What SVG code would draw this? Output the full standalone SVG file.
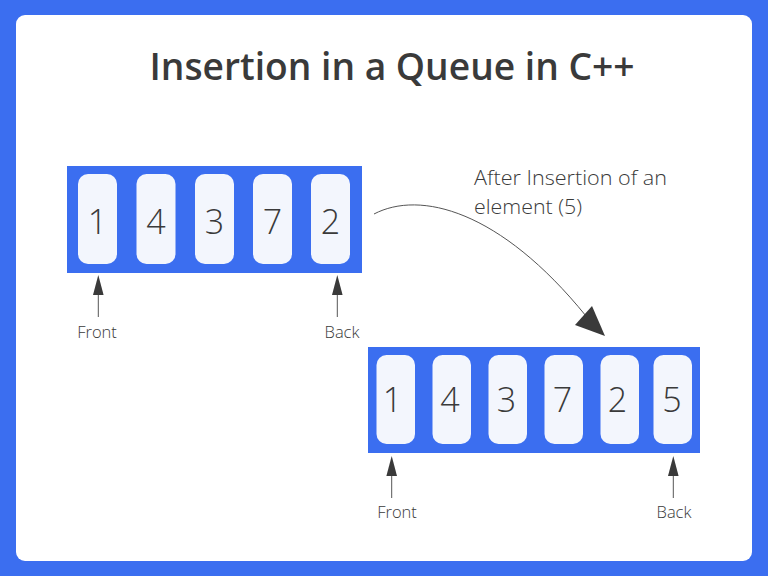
<svg xmlns="http://www.w3.org/2000/svg" width="768" height="576" viewBox="0 0 768 576">
<style>
.bg{fill:#3b6ef0}
.card{fill:#ffffff}
.q{fill:#3b6ef0}
.cell{fill:#f3f6fd}
.num{font-family:"Open Sans","Noto Sans",sans-serif;font-size:34px;font-weight:300;fill:#3a3a3a;text-anchor:middle}
.lbl{font-family:"Open Sans","Noto Sans",sans-serif;font-size:16.5px;font-weight:300;fill:#3a3a3a;text-anchor:middle}
.note{font-family:"Open Sans","Noto Sans",sans-serif;font-size:19.5px;font-weight:300;fill:#3a3a3a}
.title{font-family:"Open Sans","Noto Sans",sans-serif;font-size:38px;font-weight:600;fill:#3a3a3a;text-anchor:middle}
.ptr{stroke:#555;stroke-width:1;fill:none}
.head{fill:#3a3a3a}
</style>
<rect class="bg" x="0" y="0" width="768" height="576"/>
<rect class="card" x="16" y="15" width="736" height="546" rx="9"/>
<text class="title" x="392" y="80" textLength="485" lengthAdjust="spacingAndGlyphs">Insertion in a Queue in C++</text>

<g id="queue1">
<rect class="q" x="67" y="166" width="295" height="107"/>
<rect class="cell" x="78" y="174" width="39" height="90" rx="10"/>
<rect class="cell" x="136.5" y="174" width="39" height="90" rx="10"/>
<rect class="cell" x="195" y="174" width="39" height="90" rx="10"/>
<rect class="cell" x="253" y="174" width="39" height="90" rx="10"/>
<rect class="cell" x="311" y="174" width="39" height="90" rx="10"/>
<text class="num" x="97.5" y="234">1</text>
<text class="num" x="156" y="234">4</text>
<text class="num" x="214.5" y="234">3</text>
<text class="num" x="272.5" y="234">7</text>
<text class="num" x="330.5" y="234">2</text>
</g>

<g id="front1">
<text class="lbl" x="97" y="338">Front</text>
</g>
<g id="back1">
<text class="lbl" x="342" y="338">Back</text>
</g>

<g id="queue2">
<rect class="q" x="368" y="347" width="332" height="106"/>
<rect class="cell" x="376.5" y="355" width="38.5" height="89" rx="10"/>
<rect class="cell" x="432.5" y="355" width="38.5" height="89" rx="10"/>
<rect class="cell" x="488.5" y="355" width="38.5" height="89" rx="10"/>
<rect class="cell" x="544.5" y="355" width="38.5" height="89" rx="10"/>
<rect class="cell" x="600.5" y="355" width="38.5" height="89" rx="10"/>
<rect class="cell" x="653.5" y="355" width="38.5" height="89" rx="10"/>
<text class="num" x="392.5" y="412">1</text>
<text class="num" x="450" y="412">4</text>
<text class="num" x="506.5" y="412">3</text>
<text class="num" x="562.5" y="412">7</text>
<text class="num" x="617.5" y="412">2</text>
<text class="num" x="672" y="412">5</text>
</g>

<g id="front2">
<text class="lbl" x="397" y="518">Front</text>
</g>
<g id="back2">
<text class="lbl" x="674" y="518">Back</text>
</g>

<g id="note">
<text class="note" x="474" y="185" textLength="193" lengthAdjust="spacingAndGlyphs">After Insertion of an</text>
<text class="note" x="474" y="214" textLength="108" lengthAdjust="spacingAndGlyphs">element (5)</text>
</g>

<g id="connectors">
<line class="ptr" x1="98.3" y1="317" x2="98.3" y2="290"/>
<polygon class="head" points="98.3,275 93,295 103.6,295"/>
<line class="ptr" x1="337.3" y1="317" x2="337.3" y2="290"/>
<polygon class="head" points="337.3,275 332,295 342.6,295"/>
<line class="ptr" x1="391.7" y1="498" x2="391.7" y2="470"/>
<polygon class="head" points="391.7,456 386.4,476 397,476"/>
<line class="ptr" x1="673.3" y1="498" x2="673.3" y2="470"/>
<polygon class="head" points="673.3,456 668,476 678.6,476"/>
<path class="ptr" d="M374,214 C420,190 500,210 586,316"/>
<polygon class="head" points="605,336 575,325 592,306"/>
</g>
</svg>
